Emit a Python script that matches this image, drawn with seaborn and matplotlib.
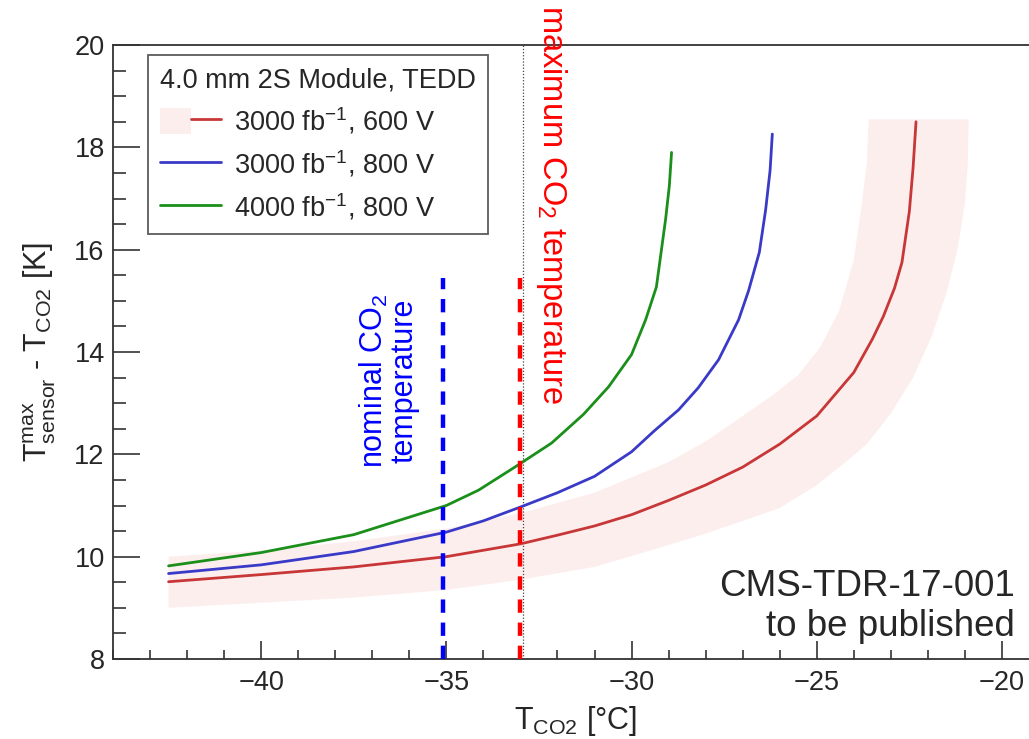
import matplotlib
matplotlib.use("Agg")
import matplotlib.pyplot as plt
import seaborn as sns
import pandas as pd
import numpy as np
from matplotlib.patches import Patch
from matplotlib.lines import Line2D
from matplotlib.legend_handler import HandlerTuple

# --- data ---
red_x = [-42.5, -40, -37.5, -35, -33, -32, -31, -30, -29, -28, -27, -26, -25, -24, -23.5, -23.2, -22.9, -22.7, -22.5, -22.4, -22.32]
red_y = [9.51, 9.65, 9.8, 10.0, 10.25, 10.42, 10.6, 10.82, 11.1, 11.4, 11.75, 12.2, 12.75, 13.6, 14.25, 14.7, 15.25, 15.75, 16.75, 17.6, 18.5]

blue_x = [-42.5, -40, -37.5, -35, -34, -33, -32, -31, -30, -29.4, -28.73, -28.2, -27.65, -27.11, -26.84, -26.55, -26.38, -26.26, -26.2]
blue_y = [9.67, 9.84, 10.1, 10.48, 10.7, 10.97, 11.25, 11.57, 12.05, 12.45, 12.87, 13.3, 13.85, 14.63, 15.2, 15.95, 16.78, 17.55, 18.26]

green_x = [-42.5, -40, -37.5, -35, -34.13, -33.13, -32.16, -31.3, -30.62, -30, -29.62, -29.33, -29.08, -28.98, -28.92]
green_y = [9.82, 10.08, 10.43, 11.0, 11.3, 11.76, 12.22, 12.78, 13.32, 13.95, 14.63, 15.27, 16.6, 17.25, 17.9]

# uncertainty band of the 600 V curve (upper-left edge, lower-right edge)
band_hi_x = [-42.5, -40, -37.5, -35, -33, -31, -29, -28, -27, -26.2, -25.5, -24.9, -24.4, -24.0, -23.8, -23.65, -23.6]
band_hi_y = [10.0, 10.12, 10.3, 10.55, 10.85, 11.25, 11.85, 12.25, 12.75, 13.15, 13.55, 14.1, 14.8, 15.8, 16.8, 17.7, 18.55]
band_lo_x = [-42.5, -40, -37.5, -35, -33, -31, -29.5, -28, -26, -25, -24.3, -23.65, -23, -22.4, -21.9, -21.5, -21.2, -21.0, -20.92, -20.9]
band_lo_y = [9.0, 9.1, 9.2, 9.35, 9.55, 9.8, 10.12, 10.45, 10.95, 11.4, 11.8, 12.2, 12.8, 13.5, 14.3, 15.15, 16.0, 16.9, 17.7, 18.55]

labels = ["3000 fb$^{\\mathrm{-1}}$, 600 V", "3000 fb$^{\\mathrm{-1}}$, 800 V", "4000 fb$^{\\mathrm{-1}}$, 800 V"]
colors = ["#c83737", "#3a3ac8", "#1a8f1a"]
band_color = "#fdeeee"

nominal_T = -35.1
maximum_T = -33.0
dotted_T = -32.92

sns.set_style("ticks")
plt.rcParams["font.family"] = ["Liberation Sans", "DejaVu Sans"]
plt.rcParams["mathtext.fontset"] = "custom"
plt.rcParams["mathtext.rm"] = "Liberation Sans"
plt.rcParams["mathtext.it"] = "Liberation Sans:italic"
plt.rcParams["mathtext.bf"] = "Liberation Sans:bold"

fig = plt.figure(figsize=(10.29, 7.39), dpi=100)
ax = fig.add_axes([113 / 1029, 1 - 659 / 739, 926 / 1029, 614 / 739])

# band
poly_x = band_hi_x + band_lo_x[::-1]
poly_y = band_hi_y + band_lo_y[::-1]
ax.fill(poly_x, poly_y, color=band_color, lw=0, zorder=1)

df = pd.concat([
    pd.DataFrame({"x": red_x, "y": red_y, "s": labels[0]}),
    pd.DataFrame({"x": blue_x, "y": blue_y, "s": labels[1]}),
    pd.DataFrame({"x": green_x, "y": green_y, "s": labels[2]}),
])
sns.lineplot(data=df, x="x", y="y", hue="s", palette=colors, estimator=None,
             sort=False, linewidth=2, legend=False, ax=ax, zorder=3)

# reference temperatures
ax.plot([dotted_T, dotted_T], [8, 20], color="#444444", lw=0.9, ls=(0, (1, 1.5)), zorder=2)
ax.plot([nominal_T, nominal_T], [8, 15.45], color="#0000ff", lw=3.2, ls=(0, (3, 2.2)), zorder=4)
ax.plot([maximum_T, maximum_T], [8, 15.45], color="#ff0000", lw=3.2, ls=(0, (3, 2.2)), zorder=4)

ax.text(-36.56, 13.44, "nominal CO$_2$\ntemperature", color="#0000ff", fontsize=22,
        rotation=90, ha="center", va="center", multialignment="center", linespacing=0.95)
ax.text(-32.16, 16.875, "maximum CO$_2$ temperature", color="#ff0000", fontsize=23.5,
        rotation=270, ha="center", va="center", clip_on=False)

ax.text(-19.64, 9.24, "CMS-TDR-17-001", fontsize=26.5, ha="right", va="baseline")
ax.text(-19.64, 8.44, "to be published", fontsize=26.5, ha="right", va="baseline")

ax.set_xlim(-44, -19)
ax.set_ylim(8, 20)
ax.set_xticks([-40, -35, -30, -25, -20])
ax.set_xticklabels(["\u221240", "\u221235", "\u221230", "\u221225", "\u221220"])
ax.set_xticks(np.arange(-44, -19, 1), minor=True)
ax.set_yticks([8, 10, 12, 14, 16, 18, 20])
ax.set_yticks(np.arange(8, 20.01, 0.5), minor=True)
ax.tick_params(axis="both", which="both", direction="in", color="#333333", labelsize=19.5, width=1.2)
ax.tick_params(axis="x", which="major", length=13, pad=8)
ax.tick_params(axis="x", which="minor", length=6.5)
ax.tick_params(axis="y", which="major", length=19.5, pad=6)
ax.tick_params(axis="y", which="minor", length=9.7)
for side in ["left", "bottom", "top"]:
    ax.spines[side].set_color("#333333")
    ax.spines[side].set_linewidth(1.3)
ax.spines["right"].set_visible(False)

ax.set_xlabel("$\\mathrm{T_{CO2}}$ [\u00b0C]", fontsize=22, labelpad=6)
ax.set_ylabel("$\\mathrm{T^{max}_{sensor}}$ - $\\mathrm{T_{CO2}}$ [K]", fontsize=22, labelpad=12)

handles = [
    (Patch(facecolor=band_color, edgecolor="none"), Line2D([], [], color=colors[0], lw=2)),
    Line2D([], [], color=colors[1], lw=2),
    Line2D([], [], color=colors[2], lw=2),
]
leg = ax.legend(handles, labels, title="4.0 mm 2S Module, TEDD", alignment="left",
                loc="upper left", bbox_to_anchor=(0.0378, 0.9837), borderaxespad=0,
                fontsize=19.5, title_fontsize=19.5, frameon=True, fancybox=False,
                handlelength=2.25, handleheight=1.1, handletextpad=0.48,
                labelspacing=0.45, borderpad=0.45,
                handler_map={tuple: HandlerTuple(ndivide=None, pad=0)})
leg.get_frame().set_edgecolor("#333333")
leg.get_frame().set_linewidth(1.3)
leg.set_zorder(5)

fig.savefig("out.png", dpi=100)
